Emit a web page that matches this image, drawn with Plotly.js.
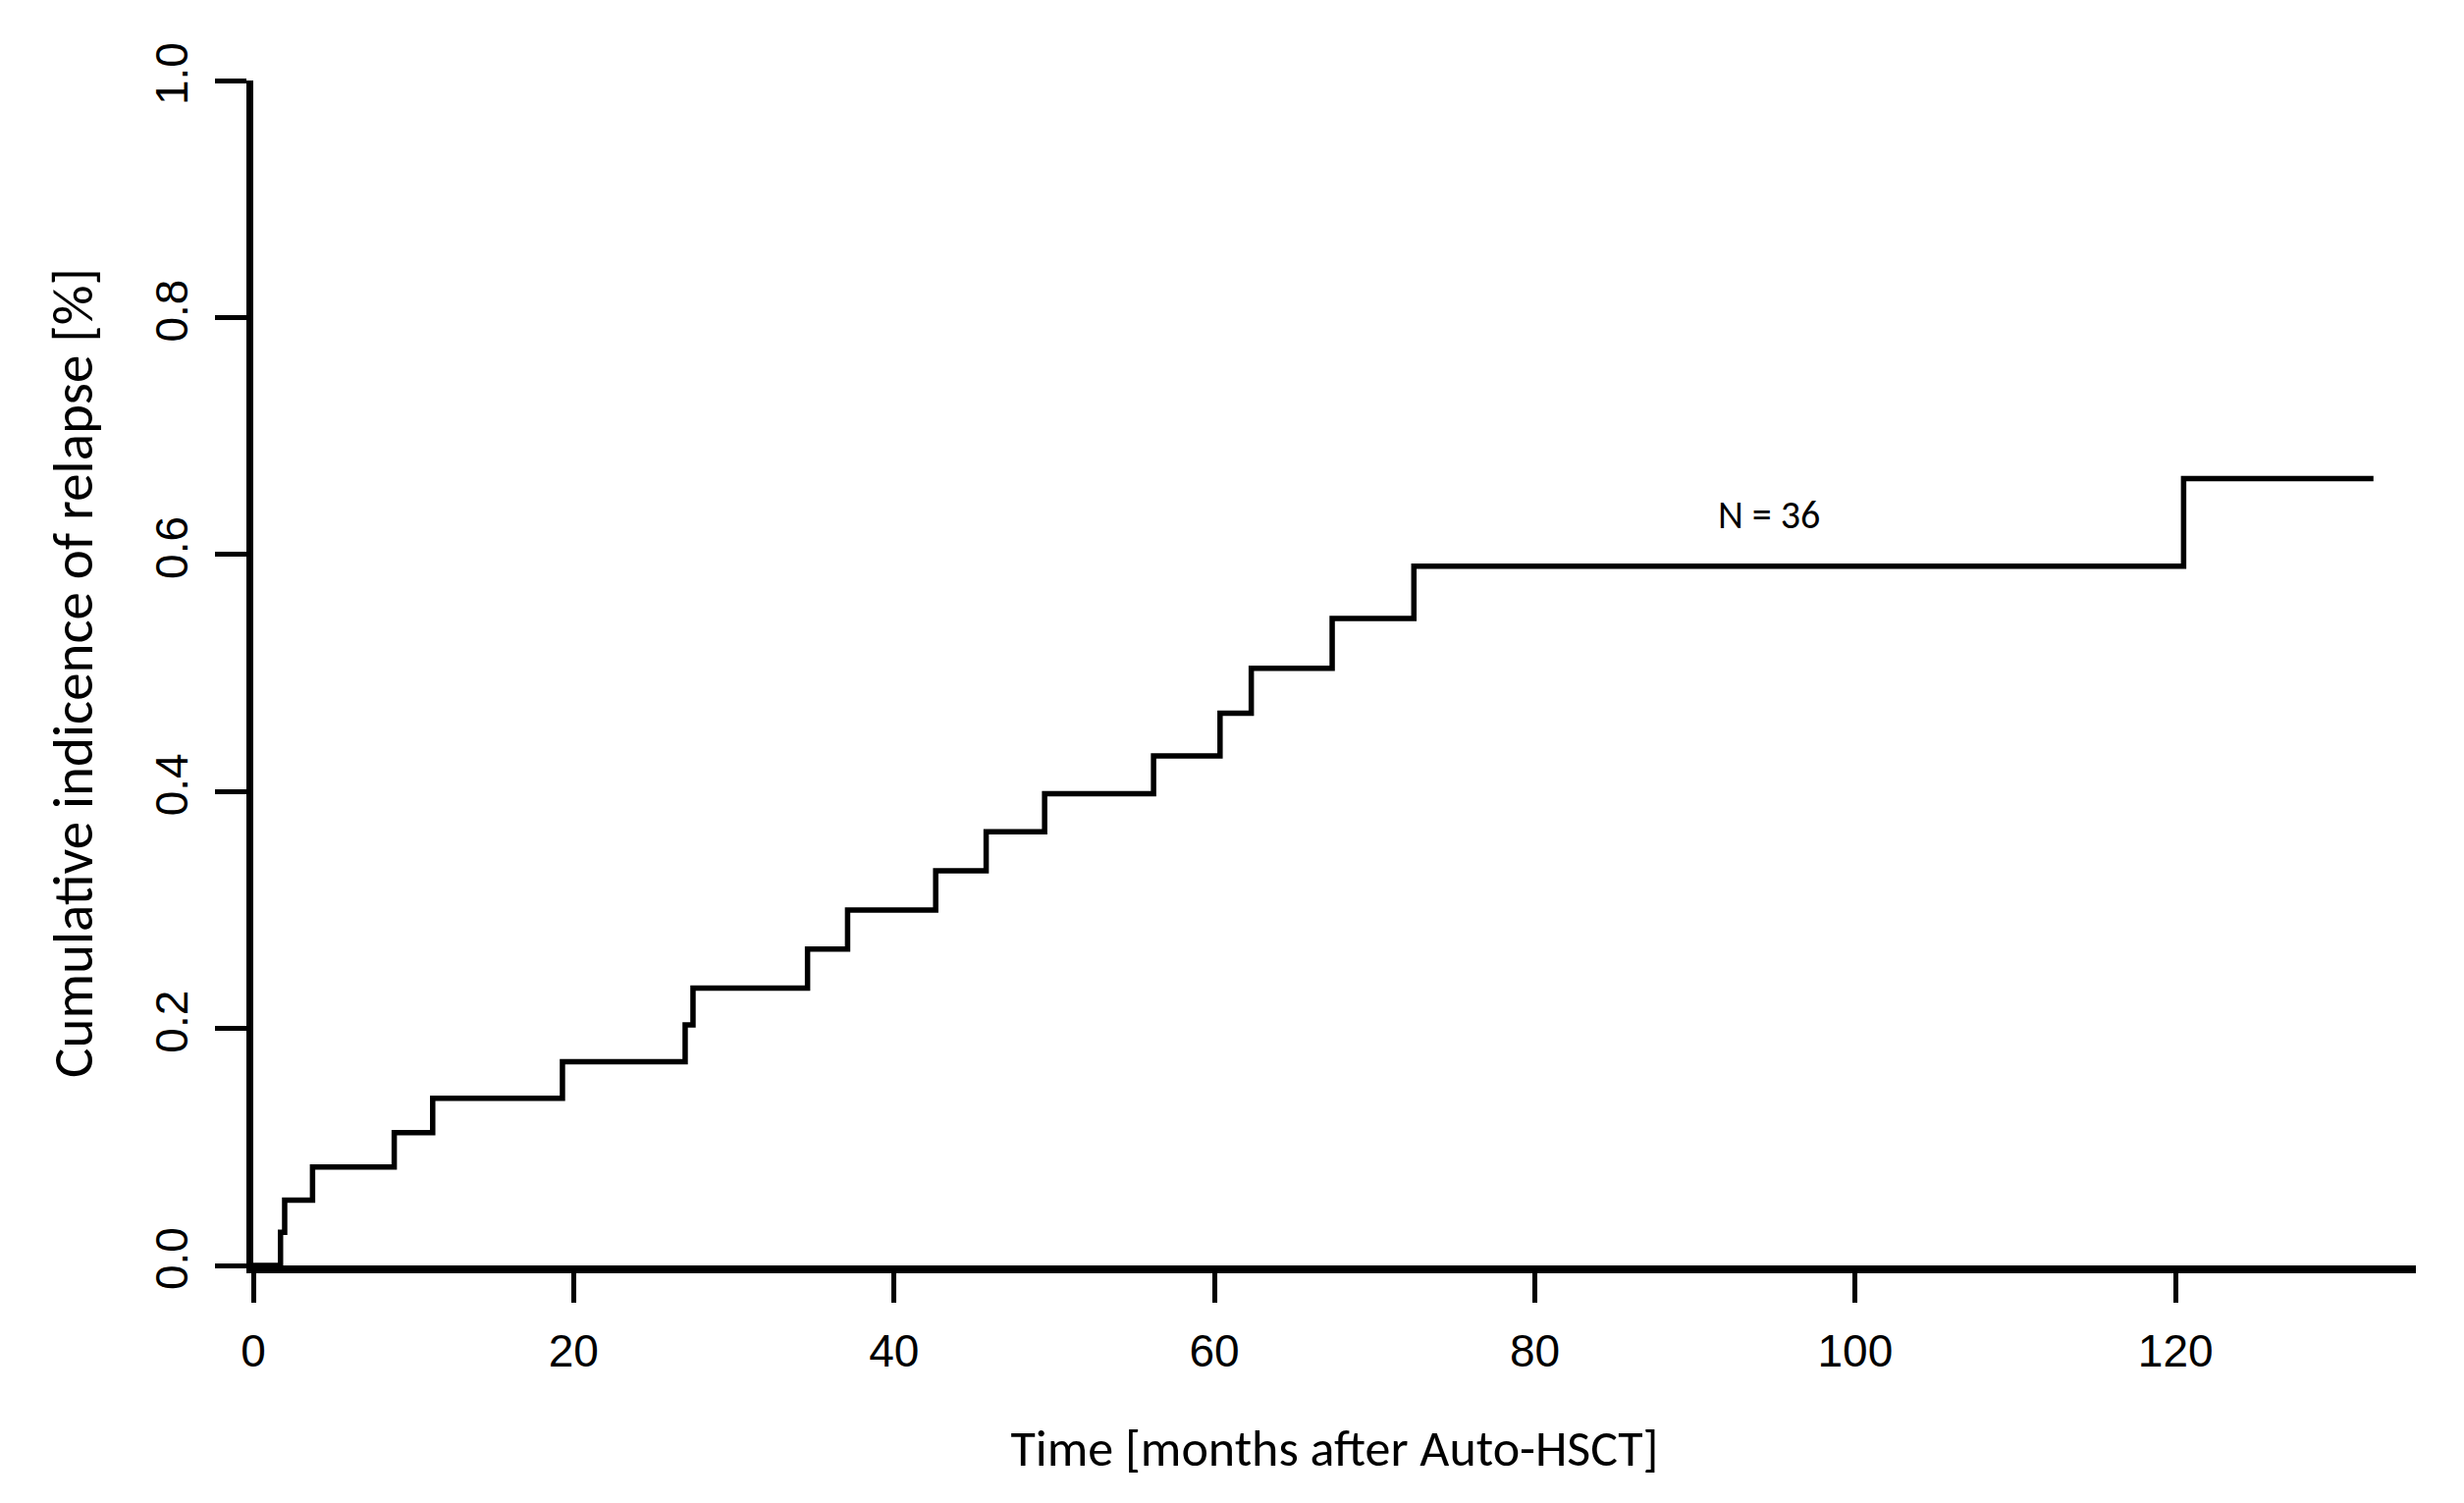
<!DOCTYPE html>
<html>
<head>
<meta charset="utf-8">
<script src="https://cdn.plot.ly/plotly-3.0.1.min.js"></script>
<style>html,body{margin:0;padding:0;background:#fff;} #chart{width:2510px;height:1531px;}</style>
</head>
<body>
<div id="chart"></div>
<script>
// Step times (months after Auto-HSCT) and cumulative incidence of relapse
const months = [0, 1.7, 1.96, 3.7, 8.8, 11.2, 19.3, 26.96, 27.45, 34.6, 37.1, 42.6, 45.75, 49.4, 56.2, 60.35, 62.3, 67.35, 72.45, 120.5, 132.35];
const cumInc = [0, 0.028, 0.055, 0.083, 0.112, 0.141, 0.172, 0.203, 0.234, 0.267, 0.300, 0.333, 0.366, 0.398, 0.430, 0.466, 0.504, 0.546, 0.590, 0.664, 0.664];
const xTicks = [0, 20, 40, 60, 80, 100, 120];
const yTicks = [0, 0.2, 0.4, 0.6, 0.8, 1.0];
const yTickText = ["0.0", "0.2", "0.4", "0.6", "0.8", "1.0"];
const xTitle = "Time [months after Auto-HSCT]";
const yTitle = "Cumulative indicence of relapse [%]";
const annotationText = "N = 36";
const annotationPos = [94.6, 0.633];

const tickFont = {family: "Liberation Sans, Arial, sans-serif", size: 46, color: "#000"};
const titleFontX = {family: "Carlito, Lato, sans-serif", size: 52, color: "#000"};
const titleFontY = {family: "Carlito, Lato, sans-serif", size: 57, color: "#000"};

const trace = {
  x: months, y: cumInc, type: "scatter", mode: "lines",
  line: {shape: "hv", color: "#000", width: 5.5},
  cliponaxis: false, hoverinfo: "x+y", showlegend: false
};

const layout = {
  width: 2510, height: 1531,
  paper_bgcolor: "#fff", plot_bgcolor: "#fff",
  margin: {l: 258, r: 49, t: 82, b: 242},
  showlegend: false,
  xaxis: {
    range: [0, 135], showgrid: false, zeroline: false,
    showline: true, linecolor: "#000", linewidth: 8,
    ticks: "outside", ticklen: 30, tickwidth: 5, tickcolor: "#000",
    tickvals: xTicks, ticktext: xTicks.map(String), tickfont: tickFont,
    ticklabelstandoff: 10,
    title: {text: xTitle, font: titleFontX, standoff: 58}
  },
  yaxis: {
    range: [0, 1], showgrid: false, zeroline: false,
    showline: true, linecolor: "#000", linewidth: 7,
    ticks: "outside", ticklen: 32, tickwidth: 5, tickcolor: "#000",
    tickvals: yTicks, ticktext: yTickText, tickfont: tickFont, tickangle: -90,
    ticklabelstandoff: 10,
    title: {text: yTitle, font: titleFontY, standoff: 38}
  },
  annotations: [{
    x: annotationPos[0], y: annotationPos[1], xref: "x", yref: "y",
    text: annotationText, showarrow: false,
    font: {family: "Carlito, Lato, sans-serif", size: 40, color: "#000"}
  }]
};

Plotly.newPlot("chart", [trace], layout, {displayModeBar: false, staticPlot: true});
</script>
</body>
</html>
